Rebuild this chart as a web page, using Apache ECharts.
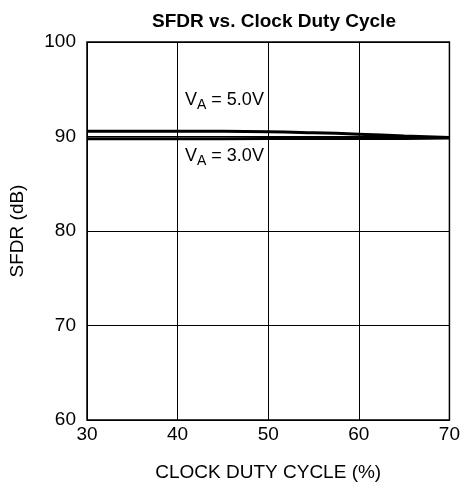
<!DOCTYPE html>
<html>
<head>
<meta charset="utf-8">
<script src="https://cdn.jsdelivr.net/npm/echarts@6/dist/echarts.min.js"></script>
<style>
  html, body { margin: 0; padding: 0; background: #fff; }
  #chart { width: 463px; height: 487px; }
</style>
</head>
<body>
<div id="chart"></div>
<script>
  // duty cycle (%) sample points
  var dutyCycle = [30, 40, 50, 55, 60, 65, 70];
  // SFDR (dB) for each supply
  var sfdr5V = [90.55, 90.55, 90.5, 90.4, 90.25, 90.05, 89.9];
  var sfdr3V = [89.75, 89.75, 89.8, 89.8, 89.8, 89.8, 89.85];

  var font = 'Liberation Sans, Arial, sans-serif';

  function pairs(xs, ys) {
    return xs.map(function (x, i) { return [x, ys[i]]; });
  }

  var labelRich = {
    v: { fontFamily: font, fontSize: 18, fill: '#000' },
    s: { fontFamily: font, fontSize: 14, fill: '#000', padding: [11, 0, 0, 0] }
  };

  var myChart = echarts.init(document.getElementById('chart'));
  var option = {
    animation: false,
    title: {
      text: 'SFDR vs. Clock Duty Cycle',
      left: 269, top: 7, textAlign: 'center',
      textStyle: { fontFamily: font, fontSize: 19, fontWeight: 'bold', color: '#000' }
    },
    grid: {
      left: 87, right: 11, top: 42, bottom: 67,
      show: true, borderColor: '#000', borderWidth: 1.5, backgroundColor: 'transparent'
    },
    xAxis: {
      type: 'value', min: 30, max: 70, interval: 10,
      name: 'CLOCK DUTY CYCLE (%)', nameLocation: 'middle', nameGap: 43,
      nameTextStyle: { fontFamily: font, fontSize: 19, color: '#000' },
      axisLine: { show: false },
      axisTick: { show: false },
      axisLabel: { fontFamily: font, fontSize: 19, color: '#000', margin: 5 },
      splitLine: { show: true, lineStyle: { color: '#000', width: 1 } }
    },
    yAxis: {
      type: 'value', min: 60, max: 100, interval: 10,
      name: 'SFDR (dB)', nameLocation: 'middle', nameGap: 60, nameRotate: 90,
      nameTextStyle: { fontFamily: font, fontSize: 19, color: '#000' },
      axisLine: { show: false },
      axisTick: { show: false },
      axisLabel: { fontFamily: font, fontSize: 19, color: '#000', margin: 11 },
      splitLine: { show: true, lineStyle: { color: '#000', width: 1 } }
    },
    graphic: [
      {
        type: 'text', left: 185, top: 91,
        style: { text: '{v|V}{s|A}{v| = 5.0V}', rich: labelRich }
      },
      {
        type: 'text', left: 185, top: 147,
        style: { text: '{v|V}{s|A}{v| = 3.0V}', rich: labelRich }
      }
    ],
    series: [
      {
        name: 'VA = 5.0V', type: 'line', data: pairs(dutyCycle, sfdr5V),
        showSymbol: false, smooth: true,
        lineStyle: { color: '#000', width: 3 }
      },
      {
        name: 'VA = 3.0V', type: 'line', data: pairs(dutyCycle, sfdr3V),
        showSymbol: false, smooth: true,
        lineStyle: { color: '#000', width: 3 }
      }
    ]
  };
  myChart.setOption(option);
</script>
</body>
</html>
